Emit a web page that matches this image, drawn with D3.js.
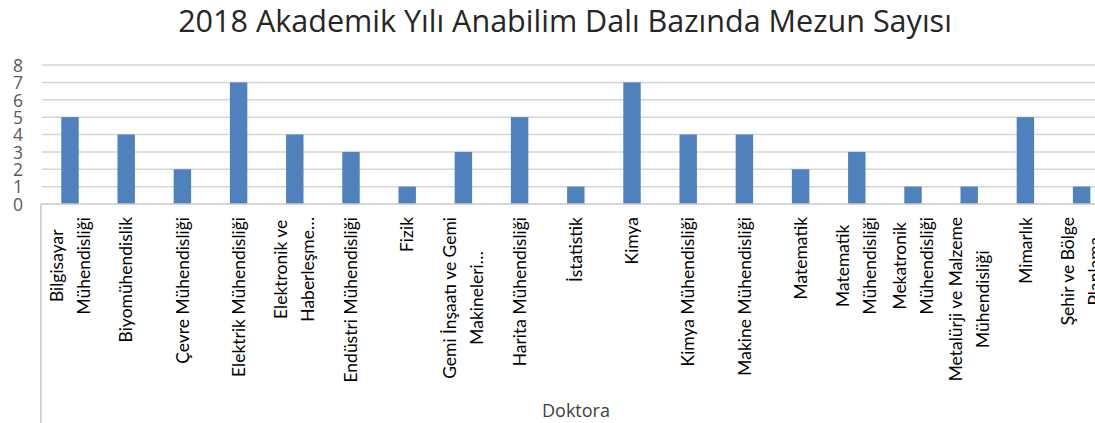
<!DOCTYPE html>
<html>
<head>
<meta charset="utf-8">
<script src="https://cdn.jsdelivr.net/npm/d3@7"></script>
<style>
  html, body { margin: 0; padding: 0; background: #fff; overflow: hidden; }
  svg { display: block; }
</style>
</head>
<body>
<svg id="chart" width="1095" height="423"></svg>
<script>
// ---- data ----
const title = "2018 Akademik Yılı Anabilim Dalı Bazında Mezun Sayısı";
const groupLabel = "Doktora";
const categories = [
  "Bilgisayar Mühendisliği", "Biyomühendislik", "Çevre Mühendisliği",
  "Elektrik Mühendisliği", "Elektronik ve Haberleşme Mühendisliği",
  "Endüstri Mühendisliği", "Fizik", "Gemi İnşaatı ve Gemi Makineleri Mühendisliği",
  "Harita Mühendisliği", "İstatistik", "Kimya", "Kimya Mühendisliği",
  "Makine Mühendisliği", "Matematik", "Matematik Mühendisliği",
  "Mekatronik Mühendisliği", "Metalürji ve Malzeme Mühendisliği",
  "Mimarlık", "Şehir ve Bölge Planlama"
];
const tickLabels = [
  ["Bilgisayar", "Mühendisliği"], ["Biyomühendislik"], ["Çevre Mühendisliği"],
  ["Elektrik Mühendisliği"], ["Elektronik ve", "Haberleşme…"],
  ["Endüstri Mühendisliği"], ["Fizik"], ["Gemi İnşaatı ve Gemi", "Makineleri…"],
  ["Harita Mühendisliği"], ["İstatistik"], ["Kimya"], ["Kimya Mühendisliği"],
  ["Makine Mühendisliği"], ["Matematik"], ["Matematik", "Mühendisliği"],
  ["Mekatronik", "Mühendisliği"], ["Metalürji ve Malzeme", "Mühendisliği"],
  ["Mimarlık"], ["Şehir ve Bölge", "Planlama"]
];
const values = [5, 4, 2, 7, 4, 3, 1, 3, 5, 1, 7, 4, 4, 2, 3, 1, 1, 5, 1];
const yTicks = [0, 1, 2, 3, 4, 5, 6, 7, 8];

// ---- layout ----
const svg = d3.select("#chart");
const plotLeft = 41.9, step = 56.2;
const plotRight = plotLeft + step * categories.length;
const yTop = 65, yBottom = 204;
const barColor = "#4F81BD";
const labelFont = "Lato, 'Open Sans', sans-serif";

const x = d3.scaleBand().domain(categories).range([plotLeft, plotRight]).padding(0);
const y = d3.scaleLinear().domain([0, 8]).range([yBottom, yTop]);
const barW = x.bandwidth() * 0.31;

// gridlines
svg.append("g").selectAll("line").data(yTicks.filter(d => d > 0)).join("line")
  .attr("x1", plotLeft).attr("x2", plotRight)
  .attr("y1", d => y(d)).attr("y2", d => y(d))
  .attr("stroke", "#d6d6d6").attr("stroke-width", 1.5);

// y axis labels
const yAxis = d3.axisLeft(y).tickValues(yTicks).tickSize(0).tickPadding(0).tickFormat(d3.format("d"));
const gy = svg.append("g").attr("transform", "translate(23,0)").call(yAxis);
gy.select(".domain").remove();
gy.selectAll("text").attr("font-family", "'Open Sans', sans-serif").attr("font-size", 17.5)
  .attr("fill", "#595959").attr("dy", "0.36em");

// bars
svg.append("g").selectAll("rect").data(values).join("rect")
  .attr("x", (d, i) => x(categories[i]) + x.bandwidth() / 2 - barW / 2)
  .attr("width", barW)
  .attr("y", d => y(d))
  .attr("height", d => y(0) - y(d))
  .attr("fill", barColor);

// axis line and divider
svg.append("line").attr("x1", plotLeft - 1).attr("x2", plotRight).attr("y1", yBottom).attr("y2", yBottom)
  .attr("stroke", "#c8c8c8").attr("stroke-width", 1.5);
svg.append("line").attr("x1", plotLeft - 1).attr("x2", plotLeft - 1).attr("y1", yBottom).attr("y2", 423)
  .attr("stroke", "#c8c8c8").attr("stroke-width", 1.5);

// category labels (rotated, wrapped)
const labelSize = (() => {
  const t = svg.append("text").attr("font-family", labelFont).attr("font-size", 18).text("Elektrik Mühendisliği");
  const w = t.node().getComputedTextLength(); t.remove();
  return 18 * 160 / w;
})();
const lineGap = 27, labelTop = 217;
const lg = svg.append("g");
tickLabels.forEach((lines, i) => {
  const cx = x(categories[i]) + x.bandwidth() / 2;
  const g = lg.append("g");
  const texts = lines.map((ln, j) => g.append("text")
    .attr("font-family", labelFont).attr("font-size", labelSize).attr("fill", "#000")
    .attr("text-anchor", "middle").attr("dy", "0.35em").text(ln));
  const maxLen = d3.max(texts, t => t.node().getComputedTextLength());
  const cy = labelTop + maxLen / 2;
  texts.forEach((t, j) => {
    const off = (j - (lines.length - 1) / 2) * lineGap;
    t.attr("transform", `translate(${cx + off},${cy}) rotate(-90)`);
  });
});

// group label
svg.append("text").attr("x", 576).attr("y", 417).attr("text-anchor", "middle")
  .attr("font-family", "'Open Sans', sans-serif").attr("font-size", 18).attr("fill", "#404040")
  .text(groupLabel);

// title, fitted to reference width
const tt = svg.append("text").attr("x", 565).attr("y", 32).attr("text-anchor", "middle")
  .attr("font-family", "'Open Sans', sans-serif").attr("font-size", 26).attr("fill", "#262626")
  .text(title);
const tw = tt.node().getComputedTextLength();
tt.attr("font-size", 26 * 774 / tw);
</script>
</body>
</html>
